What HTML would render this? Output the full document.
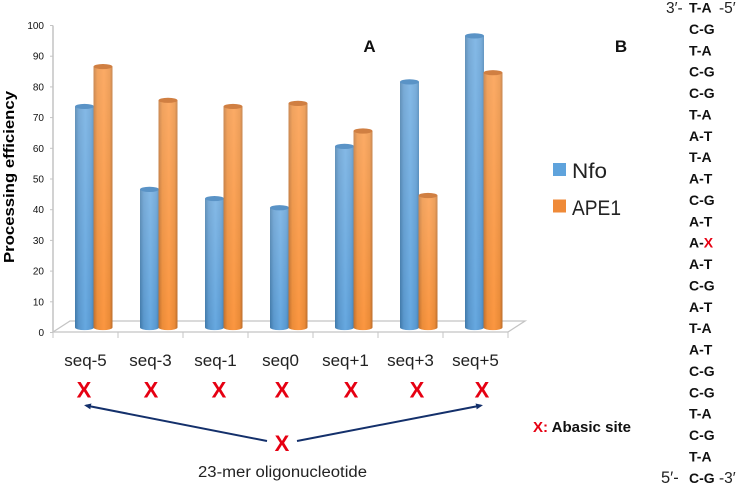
<!DOCTYPE html>
<html lang="en">
<head>
<meta charset="utf-8">
<title>Processing efficiency chart</title>
<style>
html,body{margin:0;padding:0;background:#fff;width:737px;height:485px;overflow:hidden}
svg{display:block;font-family:"Liberation Sans",sans-serif;filter:blur(0.3px)}
</style>
</head>
<body>
<svg id="chart" xmlns="http://www.w3.org/2000/svg" width="737" height="485" viewBox="0 0 737 485">
<defs>
<linearGradient id="blueBody" x1="0" x2="1" y1="0" y2="0">
<stop offset="0" stop-color="#3f78a8"/><stop offset=".2" stop-color="#5896cc"/><stop offset=".55" stop-color="#66a8e0"/><stop offset=".85" stop-color="#5898d0"/><stop offset="1" stop-color="#427fb3"/>
</linearGradient>
<linearGradient id="orangeBody" x1="0" x2="1" y1="0" y2="0">
<stop offset="0" stop-color="#bd6e2d"/><stop offset=".2" stop-color="#ec8c38"/><stop offset=".55" stop-color="#fb9640"/><stop offset=".85" stop-color="#ea8a36"/><stop offset="1" stop-color="#ba6c2b"/>
</linearGradient>
<linearGradient id="topFade" x1="0" x2="0" y1="0" y2="1">
<stop offset="0" stop-color="#fff" stop-opacity=".2"/><stop offset="1" stop-color="#fff" stop-opacity="0"/>
</linearGradient>
<marker id="arrowHead" markerWidth="7" markerHeight="6" refX="5" refY="3" orient="auto-start-reverse" markerUnits="userSpaceOnUse"><path d="M0,0 L7,3 L0,6 Z" fill="#14306b"/></marker>
</defs>
<g id="floor"></g>
<g id="yaxis"></g>
<g id="xaxis"></g>
<g id="bars"></g>
<text transform="translate(14,177) rotate(-90)" text-anchor="middle" font-size="15" font-weight="700" fill="#000" textLength="172" lengthAdjust="spacingAndGlyphs">Processing efficiency</text>
<text x="369.5" y="52" text-anchor="middle" font-size="17" font-weight="700" fill="#111">A</text>
<text x="621" y="52" text-anchor="middle" font-size="17" font-weight="700" fill="#111">B</text>
<g>
<rect x="553" y="163" width="13" height="13" fill="#5fa3dc"/>
<text x="572" y="178" font-size="21" fill="#222" textLength="35" lengthAdjust="spacingAndGlyphs">Nfo</text>
<rect x="553" y="199.500" width="13" height="13" fill="#ef8a38"/>
<text x="572" y="215" font-size="21" fill="#222" textLength="49" lengthAdjust="spacingAndGlyphs">APE1</text>
</g>
<g id="marks"></g>
<line x1="267" y1="441" x2="86" y2="405.500" stroke="#14306b" stroke-width="2" marker-end="url(#arrowHead)"/>
<line x1="297" y1="441" x2="481" y2="405.500" stroke="#14306b" stroke-width="2" marker-end="url(#arrowHead)"/>
<text x="282" y="451" text-anchor="middle" font-size="22" font-weight="700" fill="#e60012">X</text>
<text x="198" y="477" font-size="15.500" fill="#222" textLength="169" lengthAdjust="spacingAndGlyphs">23-mer oligonucleotide</text>
<text x="533" y="432" font-size="15" font-weight="700" fill="#111" textLength="98" lengthAdjust="spacingAndGlyphs"><tspan fill="#e60012">X:</tspan> Abasic site</text>
<g id="dna"></g>
<text x="666" y="13" font-size="15.500" fill="#222">3′-</text>
<text x="719" y="13" font-size="15.500" fill="#222">-5′</text>
<text x="661" y="483" font-size="16.500" fill="#222">5′-</text>
<text x="719" y="483" font-size="15.500" fill="#222">-3′</text>
</svg>
<script>
const categories = ["seq-5","seq-3","seq-1","seq0","seq+1","seq+3","seq+5"];
const nfoValues = [72,45,42,39,59,80,95];
const ape1Values = [85,74,72,73,64,43,83];
const yTicks = [0,10,20,30,40,50,60,70,80,90,100];
const basePairs = ["T-A","C-G","T-A","C-G","C-G","T-A","A-T","T-A","A-T","C-G","A-T","A-X","A-T","C-G","A-T","T-A","A-T","C-G","C-G","T-A","C-G","T-A","C-G"];

const NS = "http://www.w3.org/2000/svg";
function mk(tag, attrs, parent, txt){
  const e = document.createElementNS(NS, tag);
  for (const k in attrs) e.setAttribute(k, attrs[k]);
  if (txt !== undefined) e.textContent = txt;
  parent.appendChild(e);
  return e;
}
const AXIS_X = 53, CAT_W = 65, Y_MAX = 100, Y_SPAN = 307;
const tickY = v => 332.5 - v / Y_MAX * Y_SPAN;
const barY = v => 327.5 - v / Y_MAX * Y_SPAN;
const catX = i => AXIS_X + i * CAT_W;

const floorG = document.getElementById("floor");
const fl = mk("path", {d:`M${AXIS_X},332 L70,321 L525,321 L508,332`, fill:"none", stroke:"#c4c4c4", "stroke-width":"1.3"}, floorG);



const yG = document.getElementById("yaxis");
const yl = mk("line", {x1:AXIS_X, x2:AXIS_X, y1:tickY(100), y2:tickY(0), stroke:"#c4c4c4", "stroke-width":"1.5"}, yG);


yTicks.forEach(v => {
  const t = mk("line", {x1:AXIS_X-3, x2:AXIS_X, y1:tickY(v), y2:tickY(v), stroke:"#c4c4c4", "stroke-width":"1"}, yG);
  
  
  const l = mk("text", {x:AXIS_X-9, y:tickY(v)+3.5, "text-anchor":"end", "font-size":"10", fill:"#111"}, yG, v);
  
  
});

const xG = document.getElementById("xaxis");
const xl = mk("line", {x1:AXIS_X, x2:catX(categories.length), y1:332, y2:332, stroke:"#c4c4c4", "stroke-width":"1.3"}, xG);


for (let i = 0; i <= categories.length; i++) {
  const t = mk("line", {x1:catX(i), x2:catX(i), y1:332, y2:338, stroke:"#c4c4c4", "stroke-width":"1"}, xG);
  
  
}
categories.forEach((c, i) => {
  const l = mk("text", {x:catX(i)+32.5, y:366, "text-anchor":"middle", "font-size":"17", fill:"#222"}, xG, c);
  
  
});

const BAR_W = 19, RY = 2.6;
const barsG = document.getElementById("bars");
function drawBar(x, v, body, top){
  const yt = barY(v), yb = barY(0);
  const g = mk("g", {}, barsG);
  
  
  const rx = BAR_W / 2;
  const d = `M${x},${yt} L${x},${yb} A${rx},${RY} 0 0 0 ${x+BAR_W},${yb} L${x+BAR_W},${yt} Z`;
  mk("path", {d:d, fill:`url(#${body})`}, g);
  mk("path", {d:d, fill:"url(#topFade)"}, g);
  mk("ellipse", {cx:x+rx, cy:yt, rx:rx, ry:RY, fill:top}, g);
}
categories.forEach((c, i) => {
  const x = catX(i) + 22;
  drawBar(x, nfoValues[i], "blueBody", "#5a93c6");
  drawBar(x + 18.5, ape1Values[i], "orangeBody", "#d07f42");
});

const markCenters = [84,151,219,282,351,417,482];
const marksG = document.getElementById("marks");
categories.forEach((c, i) => {
  const m = mk("text", {x:markCenters[i], y:397.5, "text-anchor":"middle", "font-size":"22", "font-weight":"700", fill:"#e60012"}, marksG, "X");
  
  
});

const dnaG = document.getElementById("dna");
basePairs.forEach((p, i) => {
  const y = 12.5 + i * 21.38;
  const t = mk("text", {x:689, y:y, "font-size":"14", "font-weight":"700", fill:"#111"}, dnaG);
  
  
  if (p.endsWith("X")) {
    mk("tspan", {}, t, p.slice(0, 2));
    mk("tspan", {fill:"#e60012"}, t, "X");
  } else {
    t.textContent = p;
  }
});
</script>
</body>
</html>
